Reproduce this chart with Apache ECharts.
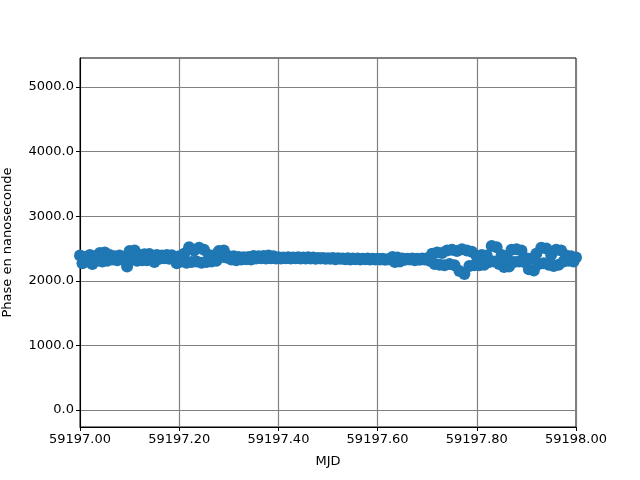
<!DOCTYPE html>
<html>
<head>
<meta charset="utf-8">
<script src="https://cdn.jsdelivr.net/npm/echarts@6/dist/echarts.min.js"></script>
<style>html,body{margin:0;padding:0;background:#fff}#c{width:640px;height:480px}</style>
</head>
<body>
<div id="c"></div>
<script>
const tStart = 59197.0;
const tStep = 0.005;
const phaseValues = [
  2390, 2270, 2370, 2300, 2400, 2260, 2380, 2310, 2430, 2300,
  2440, 2310, 2400, 2330, 2380, 2320, 2390, 2330, 2370, 2220,
  2460, 2330, 2470, 2310, 2400, 2320, 2410, 2320, 2415, 2330,
  2290, 2400, 2340, 2390, 2350, 2400, 2340, 2395, 2345, 2270,
  2380, 2300, 2420, 2280, 2520, 2290, 2470, 2300, 2510, 2280,
  2480, 2290, 2400, 2300, 2390, 2310, 2460, 2370, 2470, 2360,
  2380, 2330, 2380, 2320, 2370, 2330, 2365, 2335, 2370, 2330,
  2385, 2345, 2380, 2350, 2385, 2345, 2390, 2350, 2380, 2345,
  2365, 2345, 2360, 2350, 2365, 2345, 2360, 2350, 2365, 2345,
  2360, 2345, 2365, 2345, 2360, 2340, 2355, 2345, 2355, 2340,
  2350, 2340, 2355, 2335, 2350, 2340, 2345, 2335, 2350, 2330,
  2345, 2335, 2345, 2330, 2340, 2335, 2345, 2330, 2340, 2330,
  2340, 2330, 2340, 2325, 2335, 2330, 2370, 2290, 2360, 2300,
  2345, 2325, 2340, 2330, 2345, 2320, 2340, 2325, 2345, 2330,
  2350, 2310, 2420, 2260, 2440, 2250, 2430, 2240, 2470, 2260,
  2480, 2240, 2460, 2150, 2490, 2105, 2470, 2230, 2450, 2240,
  2380, 2240, 2400, 2250, 2390, 2290, 2540, 2300, 2520, 2260,
  2400, 2215, 2380, 2220, 2480, 2290, 2490, 2300, 2470, 2290,
  2350, 2180, 2340, 2160, 2420, 2260, 2510, 2270, 2500, 2250,
  2400, 2230, 2480, 2250, 2470, 2300, 2390, 2310, 2380, 2300, 2360
];
const mjdTimes = phaseValues.map((v, i) => +(tStart + i * tStep).toFixed(3));
const yTicks = [0, 1000, 2000, 3000, 4000, 5000];

const chart = echarts.init(document.getElementById('c'), null, {renderer: 'canvas'});
const font = 'DejaVu Sans';
chart.setOption({
  animation: false,
  backgroundColor: '#ffffff',
  grid: {left: 80, right: 64, top: 58, bottom: 53, containLabel: false, outerBoundsMode: 'none',
    show: true, borderColor: '#000', borderWidth: 1, backgroundColor: 'transparent'},
  xAxis: {
    type: 'value', min: 59197.0, max: 59198.0, interval: 0.2,
    name: 'MJD', nameLocation: 'middle', nameGap: 28,
    nameTextStyle: {fontFamily: font, fontSize: 13, color: '#000'},
    axisLine: {show: true, onZero: false, lineStyle: {color: '#000', width: 1}},
    axisTick: {show: true, inside: false, length: 4, lineStyle: {color: '#000'}},
    axisLabel: {fontFamily: font, fontSize: 13, color: '#000', margin: 6,
      formatter: v => v.toFixed(2)},
    splitLine: {show: true, lineStyle: {color: '#808080', width: 1.2}}
  },
  yAxis: {
    type: 'value', min: -263, max: 5449,
    name: 'Phase en nanoseconde', nameLocation: 'middle', nameGap: 66, nameRotate: 90,
    nameTextStyle: {fontFamily: font, fontSize: 13, color: '#000'},
    axisLine: {show: true, onZero: false, lineStyle: {color: '#000', width: 1}},
    axisTick: {show: true, length: 4, lineStyle: {color: '#000'}, customValues: yTicks},
    axisLabel: {fontFamily: font, fontSize: 13, color: '#000', margin: 6,
      customValues: yTicks, formatter: v => v.toFixed(1)},
    splitLine: {show: true, lineStyle: {color: '#808080', width: 1.2}}
  },
  series: [{
    type: 'scatter',
    data: mjdTimes.map((t, i) => [t, phaseValues[i]]),
    symbol: 'circle', symbolSize: 12,
    itemStyle: {color: '#1f77b4', opacity: 1},
    silent: true
  }]
});
</script>
</body>
</html>
